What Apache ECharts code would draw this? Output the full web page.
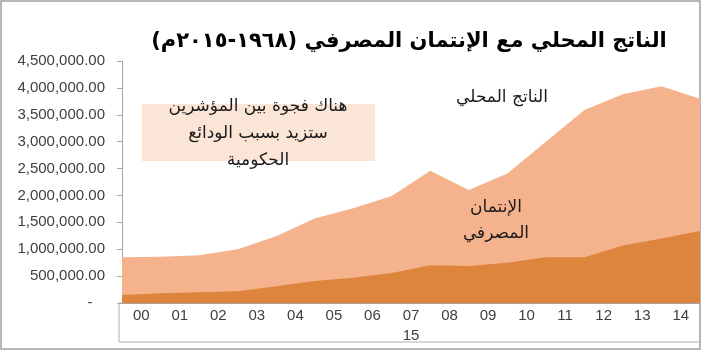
<!DOCTYPE html>
<html><head><meta charset="utf-8">
<script src="https://cdn.jsdelivr.net/npm/echarts@6/dist/echarts.min.js"></script>
<style>html,body{margin:0;padding:0;background:#fff}#c{width:702px;height:351px}</style>
</head><body><div id="c"></div>
<script>
const titleText = 'الناتج المحلي مع الإنتمان المصرفي (١٩٦٨-٢٠١٥م)';
const pointCats = ['00','01','02','03','04','05','06','07','08','09','10','11','12','13','14','15'];
const tickLabels = ['00','01','02','03','04','05','06','07','08','09','10','11','12','13','14'];
const extraLabel = '15';
const gdp = [850000, 860000, 890000, 1000000, 1240000, 1570000, 1760000, 1990000, 2460000, 2100000, 2410000, 3000000, 3590000, 3880000, 4030000, 3800000];
const credit = [150000, 180000, 200000, 220000, 310000, 410000, 470000, 560000, 700000, 690000, 750000, 850000, 850000, 1070000, 1200000, 1340000];
const gdpLabel = 'الناتج المحلي';
const creditLabel = 'الإنتمان\nالمصرفي';
const noteText = 'هناك فجوة بين المؤشرين\nستزيد بسبب الودائع\nالحكومية';

const G = {left:122, right:2, top:61, bottom:48};
const W = 702, H = 351;
const ar = 'DejaVu Sans';
const chart = echarts.init(document.getElementById('c'));
chart.setOption({
  animation:false,
  title:{text:titleText, left:404, top:26, textAlign:'center',
    textStyle:{fontFamily:ar, fontWeight:'bold', fontSize:21, color:'#000'}},
  grid:G,
  xAxis:[
    {type:'category', data:pointCats, boundaryGap:false, show:false},
    {type:'category', data:tickLabels, boundaryGap:true, position:'bottom',
     axisLine:{show:true, lineStyle:{color:'#a6a6a6'}}, axisTick:{show:false},
     axisLabel:{fontFamily:'Liberation Sans', fontSize:15, color:'#404040', margin:5},
     name:extraLabel, nameLocation:'middle', nameGap:24,
     nameTextStyle:{fontFamily:'Liberation Sans', fontSize:15, color:'#404040'}}
  ],
  yAxis:{type:'value', min:0, max:4500000, interval:500000,
    axisLine:{show:true, lineStyle:{color:'#a6a6a6'}},
    axisTick:{show:true, length:5, lineStyle:{color:'#a6a6a6'}},
    splitLine:{show:false},
    axisLabel:{fontFamily:'Liberation Sans', fontSize:15, color:'#404040', margin:17,
      formatter:v=> v===0 ? '-   ' : v.toLocaleString('en-US',{minimumFractionDigits:2, maximumFractionDigits:2})}},
  series:[
    {type:'line', xAxisIndex:0, data:gdp, symbol:'none', lineStyle:{width:0},
     areaStyle:{color:'#F5B38D', opacity:1}, z:2},
    {type:'line', xAxisIndex:0, data:credit, symbol:'none', lineStyle:{width:0},
     areaStyle:{color:'#DD853C', opacity:1}, z:3}
  ],
  graphic:[
    {type:'rect', shape:{x:1, y:1, width:W-3, height:H-3}, style:{fill:'none', stroke:'#a0a0a0', lineWidth:1.5}, silent:true},
    {type:'rect', shape:{x:G.left-3, y:H-G.bottom, width:W-G.right-G.left+3, height:39}, style:{fill:'none', stroke:'#b0b0b0', lineWidth:1}, silent:true},
    {type:'rect', shape:{x:142, y:104, width:233, height:57}, style:{fill:'#FBE5D6'}, z:10, silent:true},
    {type:'text', x:258, y:93, z:11, style:{text:noteText, font:'17px "DejaVu Sans"', fill:'#1a1a1a', align:'center', lineHeight:27}},
    {type:'text', x:502, y:89, z:11, style:{text:gdpLabel, font:'17px "DejaVu Sans"', fill:'#1a1a1a', align:'center'}},
    {type:'text', x:496, y:195, z:11, style:{text:creditLabel, font:'17px "DejaVu Sans"', fill:'#1a1a1a', align:'center', lineHeight:26}}
  ]
});
</script></body></html>
